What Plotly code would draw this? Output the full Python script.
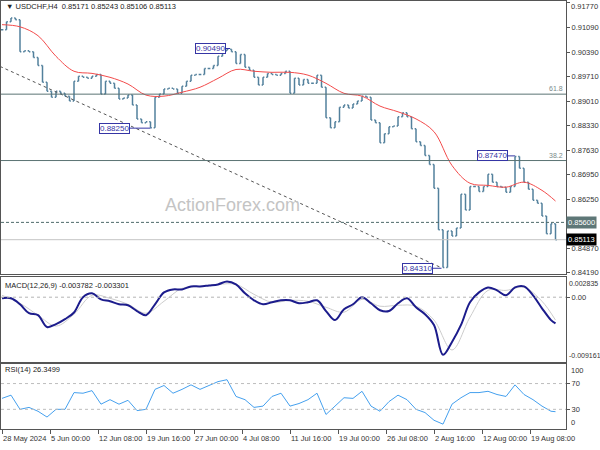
"""USDCHF H4 chart with MACD and RSI panes, MT4 look."""

import plotly.graph_objects as go
from plotly.subplots import make_subplots

# H4 closes, one value every 3rd bar
closes = [
    0.9102, 0.9124, 0.9135, 0.9130, 0.9040, 0.9043, 0.9040, 0.9024, 0.9001, 0.8954,
    0.8929, 0.8912, 0.8929, 0.8923, 0.8915, 0.8901, 0.8957, 0.8971, 0.8968, 0.8965,
    0.8971, 0.8976, 0.8921, 0.8957, 0.8951, 0.8937, 0.8907, 0.8910, 0.8918, 0.8890,
    0.8851, 0.8840, 0.8843, 0.8826, 0.8912, 0.8921, 0.8935, 0.8937, 0.8935, 0.8923,
    0.8943, 0.8957, 0.8974, 0.8976, 0.8976, 0.8993, 0.8993, 0.9001, 0.9027, 0.9043,
    0.9047, 0.9040, 0.9007, 0.9032, 0.8996, 0.8988, 0.8968, 0.8946, 0.8968, 0.8979,
    0.8976, 0.8974, 0.8979, 0.8985, 0.8923, 0.8965, 0.8946, 0.8962, 0.8951, 0.8951,
    0.8974, 0.8940, 0.8854, 0.8826, 0.8843, 0.8884, 0.8890, 0.8882, 0.8893, 0.8901,
    0.8915, 0.8912, 0.8848, 0.8840, 0.8784, 0.8809, 0.8829, 0.8831, 0.8857, 0.8868,
    0.8857, 0.8823, 0.8787, 0.8776, 0.8748, 0.8723, 0.8656, 0.8539, 0.8433, 0.8536,
    0.8522, 0.8544, 0.8639, 0.8595, 0.8661, 0.8661, 0.8647, 0.8661, 0.8695, 0.8673,
    0.8661, 0.8659, 0.8645, 0.8661, 0.8745, 0.8712, 0.8673, 0.8653, 0.8622, 0.8614,
    0.8578, 0.8528, 0.8556, 0.8511,
]
bar_x = [3 * i for i in range(len(closes))]

# moving average, every 12th bar plus the last one
ma_vals = [
    0.9116, 0.9110, 0.9085, 0.9027, 0.8985, 0.8979, 0.8968, 0.8949, 0.8918, 0.8915,
    0.8926, 0.8940, 0.8965, 0.8990, 0.8985, 0.8982, 0.8982, 0.8974, 0.8951, 0.8923,
    0.8915, 0.8887, 0.8871, 0.8851, 0.8815, 0.8720, 0.8670, 0.8664, 0.8659, 0.8673,
    0.8650, 0.8620,
]
ma_x = list(range(0, 361, 12)) + [369]

# MACD(12,26,9), main every 6th bar, signal every 12th
macd_main = [
    -0.00016, -0.00016, -0.00102, -0.00231, -0.00259, -0.00430, -0.00388, -0.00316, -0.00220, 0.00000,
    0.00055, -0.00031, -0.00059, -0.00102, -0.00116, -0.00200, -0.00259, -0.00102, 0.00069, 0.00112,
    0.00112, 0.00155, 0.00155, 0.00169, 0.00184, 0.00226, 0.00184, 0.00055, -0.00045, -0.00102,
    -0.00073, -0.00045, -0.00045, -0.00088, -0.00073, -0.00045, -0.00200, -0.00330, -0.00173, -0.00102,
    0.00000, -0.00088, -0.00188, -0.00200, -0.00088, -0.00016, -0.00145, -0.00245, -0.00402, -0.00830,
    -0.00645, -0.00400, -0.00073, 0.00069, 0.00141, 0.00098, 0.00027, 0.00141, 0.00155, 0.00027,
    -0.00160, -0.00330, -0.003782,
]
macd_x = list(range(0, 367, 6)) + [369]
macd_signal = [
    0.00027, -0.00088, -0.00259, -0.00416, -0.00245, 0.00027, -0.00016, -0.00102, -0.00231, -0.00059,
    0.00127, 0.00155, 0.00184, 0.00184, 0.00041, -0.00073, -0.00045, -0.00059, -0.00145, -0.00216,
    -0.00031, -0.00130, -0.00116, -0.00130, -0.00330, -0.00760, -0.00288, 0.00098, 0.00098, 0.00141,
    -0.00059, -0.003301,
]
signal_x = ma_x

# RSI(14), every 6th bar
rsi_vals = [
    47, 52, 30, 33, 27, 18, 30, 30, 56, 55,
    59, 38, 45, 38, 44, 28, 30, 61, 67, 55,
    61, 68, 61, 67, 73, 76, 50, 45, 33, 35,
    50, 55, 35, 39, 45, 55, 22, 35, 48, 47,
    58, 35, 27, 42, 52, 45, 30, 25, 13, 7,
    38, 48, 56, 56, 58, 53, 50, 68, 53, 45,
    35, 27, 26.3499,
]
rsi_x = macd_x

date_labels = ["28 May 2024", "5 Jun 00:00", "12 Jun 08:00", "19 Jun 16:00",
               "27 Jun 00:00", "4 Jul 08:00", "11 Jul 16:00", "19 Jul 00:00",
               "26 Jul 08:00", "2 Aug 16:00", "12 Aug 00:00", "19 Aug 08:00"]
date_bars = [32 * i for i in range(len(date_labels))]

price_ticks = [0.9177, 0.9109, 0.9039, 0.8971, 0.8901, 0.8833,
               0.8763, 0.8695, 0.8625, 0.8557, 0.8487, 0.8419]

fib_levels = {"61.8": 0.89206, "38.2": 0.87339}
support = 0.8560
last_price = 0.85113
swing_labels = [  # text, label centre bar, connector end bar, price
    ("0.90490", 139, 152, 0.9049),
    ("0.88250", 75, 99, 0.8825),
    ("0.87470", 327, 342, 0.8747),
    ("0.84310", 277, 293, 0.8431),
]
trend_bars = [-1.33, 292.7]
trend_prices = [0.89987, 0.84329]

FONT = "Liberation Sans, Arial, sans-serif"
FRAME = "#555555"
BAR = "#52809c"
SMALL = 7.5

opens = [closes[0]] + closes[:-1]
highs = [max(o, c) for o, c in zip(opens, closes)]
lows = [min(o, c) for o, c in zip(opens, closes)]

fig = make_subplots(rows=3, cols=1, shared_xaxes=True)

fig.add_trace(go.Ohlc(x=bar_x, open=opens, high=highs, low=lows, close=closes,
                      increasing_line_color=BAR, decreasing_line_color=BAR,
                      line_width=1.5, tickwidth=0.3, hoverinfo="skip"), row=1, col=1)
fig.add_trace(go.Scatter(x=ma_x, y=ma_vals, mode="lines", line_shape="spline",
                         line=dict(color="#f24b4b", width=1)), row=1, col=1)
fig.add_trace(go.Scatter(x=trend_bars, y=trend_prices, mode="lines",
                         line=dict(color="#555555", width=1, dash="3px,3px")), row=1, col=1)

fig.add_trace(go.Scatter(x=signal_x, y=macd_signal, mode="lines", line_shape="spline",
                         line=dict(color="#cccccc", width=1)), row=2, col=1)
fig.add_trace(go.Scatter(x=macd_x, y=macd_main, mode="lines", line_shape="spline",
                         line=dict(color="#1c1c8c", width=2)), row=2, col=1)

fig.add_trace(go.Scatter(x=rsi_x, y=rsi_vals, mode="lines",
                         line=dict(color="#45a0ee", width=1)), row=3, col=1)

# horizontal levels
for name, lvl in fib_levels.items():
    fig.add_hline(y=lvl, line=dict(color="#5a7373", width=1), row=1, col=1)
    fig.add_annotation(x=0.941, y=lvl, xref="paper", yref="y", text=name,
                       showarrow=False, xanchor="right", yanchor="bottom",
                       font=dict(family=FONT, size=7, color="#7a8a8a"))
fig.add_hline(y=support, line=dict(color="#4f6a6a", width=1, dash="3px,2px"), row=1, col=1)
fig.add_hline(y=last_price, line=dict(color="#c4c4c4", width=1), row=1, col=1)
fig.add_hline(y=0, line=dict(color="#b4b4b4", width=1, dash="3px,3px"), row=2, col=1)
for lvl in (70, 30):
    fig.add_hline(y=lvl, line=dict(color="#bdbdbd", width=1, dash="3px,3px"), row=3, col=1)

# swing high / low labels
for text, lbl_bar, end_bar, price in swing_labels:
    fig.add_shape(type="line", x0=lbl_bar, x1=end_bar, y0=price, y1=price,
                  xref="x", yref="y", line=dict(color="#3535a5", width=1))
    fig.add_annotation(x=lbl_bar, y=price, xref="x", yref="y", text=text,
                       showarrow=False, bgcolor="white", bordercolor="#3535a5",
                       borderwidth=1, borderpad=0, yanchor="middle",
                       font=dict(family=FONT, size=8, color="#3535a5"))

# right-hand price boxes
fig.add_annotation(x=0.944, y=support, xref="paper", yref="y", text="0.85600",
                   showarrow=False, xanchor="left", yanchor="middle",
                   bgcolor="#5e7777", borderpad=1,
                   font=dict(family=FONT, size=SMALL, color="white"))
fig.add_annotation(x=0.944, y=last_price, xref="paper", yref="y", text="0.85113",
                   showarrow=False, xanchor="left", yanchor="middle",
                   bgcolor="black", borderpad=1,
                   font=dict(family=FONT, size=SMALL, color="white"))

# pane titles and watermark
title_font = dict(family=FONT, size=SMALL, color="#222")
pane_titles = [
    ("▼ USDCHF,H4  0.85171 0.85243 0.85106 0.85113", 4, 7),
    ("MACD(12,26,9) -0.003782 -0.003301", 3, 288),
    ("RSI(14) 26.3499", 3, 373),
]
for text, px, py in pane_titles:
    fig.add_annotation(x=px / 600, y=1 - py / 450, xref="paper", yref="paper", text=text,
                       showarrow=False, xanchor="left", yanchor="middle", font=title_font)
fig.add_annotation(x=163 / 600, y=1 - 207 / 450, xref="paper", yref="paper",
                   text="ActionForex.com", showarrow=False, yanchor="middle",
                   font=dict(family=FONT, size=18, color="#c4c4c4"))

# MACD extremes and RSI 0/100 sit inside the pane edges, MT4 style
side_font = dict(family=FONT, size=SMALL, color="#333")
edge_font = dict(family=FONT, size=7, color="#333")
fig.add_annotation(x=0.945, y=0.002835, xref="paper", yref="y2", text="0.002835",
                   showarrow=False, xanchor="left", yanchor="top", font=edge_font)
fig.add_annotation(x=0.945, y=-0.009161, xref="paper", yref="y2", text="-0.009161",
                   showarrow=False, xanchor="left", yanchor="bottom", font=edge_font)
fig.add_annotation(x=0.948, y=100, xref="paper", yref="y3", text="100",
                   showarrow=False, xanchor="left", yanchor="top", font=side_font)
fig.add_annotation(x=0.948, y=0, xref="paper", yref="y3", text="0",
                   showarrow=False, xanchor="left", yanchor="bottom", font=side_font)
# top price label hugs the upper edge, where plotly drops the tick label
fig.add_annotation(x=0.948, y=1, xref="paper", yref="paper",
                   text=f"{price_ticks[0]:.5f}", showarrow=False,
                   xanchor="left", yanchor="top", font=side_font)

# date labels start at their tick, not centred on it
for bar, text in zip(date_bars, date_labels):
    fig.add_annotation(x=bar, y=1 - 442 / 450, xref="x3", yref="paper", text=text,
                       showarrow=False, xanchor="left", yanchor="middle", xshift=-1,
                       font=side_font)

axis_common = dict(showgrid=False, zeroline=False, showline=True, mirror=True,
                   linecolor=FRAME, linewidth=1)
x_range = [-0.667, 376]
for i in (1, 2, 3):
    fig.update_xaxes(axis_common, range=x_range, domain=[1 / 600, 566 / 600],
                     showticklabels=False, row=i, col=1)
fig.update_xaxes(rangeslider_visible=False, row=1, col=1)
fig.update_xaxes(ticks="outside", ticklen=4, tickcolor=FRAME,
                 tickvals=date_bars, row=3, col=1)

y_common = dict(axis_common, side="right", ticks="outside", ticklen=3, tickcolor=FRAME,
                tickfont=side_font, ticklabelstandoff=0)
# 0.91770 is drawn as an annotation; 0.85570 sits under the 0.85600 box
price_text = ["" if v in (0.9177, 0.8557) else f"{v:.5f}" for v in price_ticks]
fig.update_yaxes(y_common, range=[0.84161, 0.91826], domain=[0.38667, 0.99778],
                 tickvals=price_ticks, ticktext=price_text, row=1, col=1)
fig.update_yaxes(y_common, range=[-0.009303, 0.002978], domain=[0.18889, 0.38],
                 tickvals=[0], ticktext=["0.00"], row=2, col=1)
fig.update_yaxes(y_common, range=[-0.77, 100.77], domain=[0.03778, 0.18444],
                 tickvals=[70, 30], ticktext=["70", "30"], row=3, col=1)

fig.update_layout(width=600, height=450, margin=dict(l=0, r=0, t=0, b=0),
                  paper_bgcolor="white", plot_bgcolor="white",
                  showlegend=False, hovermode=False)

# the page's default 8px body margin would push the chart out of the 600x450 window
fig.write_html("out.html", config={"displayModeBar": False},
               post_script="document.body.style.margin='0';")
